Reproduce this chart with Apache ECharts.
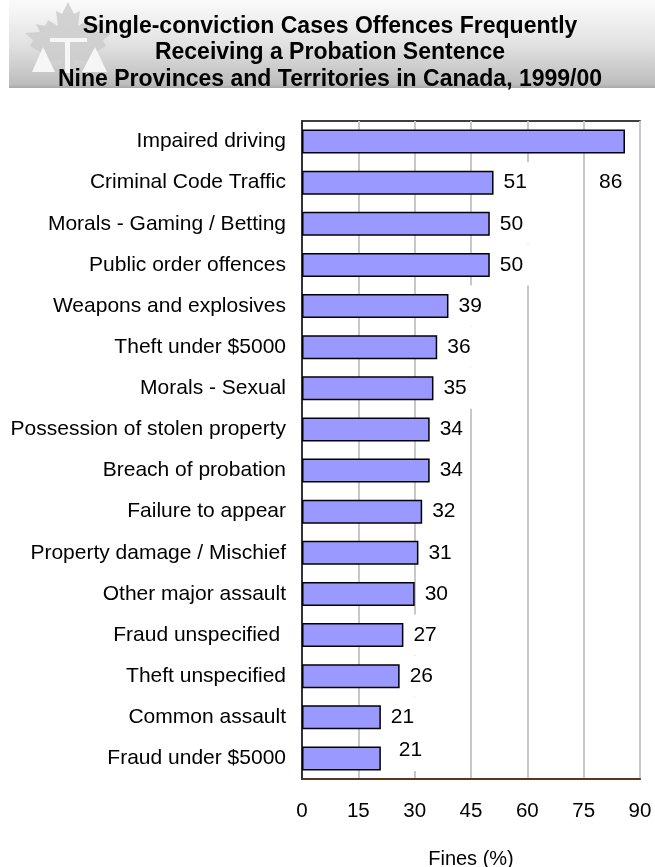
<!DOCTYPE html>
<html>
<head>
<meta charset="utf-8">
<script src="https://cdn.jsdelivr.net/npm/echarts@6/dist/echarts.min.js"></script>
<style>
  html, body { margin: 0; padding: 0; background: #fff; }
  #chart { width: 655px; height: 867px; }
</style>
</head>
<body>
<div id="chart"></div>
<script>
const categories = [
  "Impaired driving",
  "Criminal Code Traffic",
  "Morals - Gaming / Betting",
  "Public order offences",
  "Weapons and explosives",
  "Theft under $5000",
  "Morals - Sexual",
  "Possession of stolen property",
  "Breach of probation",
  "Failure to appear",
  "Property damage / Mischief",
  "Other major assault",
  "Fraud unspecified ",
  "Theft unspecified",
  "Common assault",
  "Fraud under $5000"
];
const fines = [86, 51, 50, 50, 39, 36, 35, 34, 34, 32, 31, 30, 27, 26, 21, 21];
const xTicks = [0, 15, 30, 45, 60, 75, 90];

const titleLines = [
  "Single-conviction Cases Offences Frequently",
  "Receiving a Probation Sentence",
  "Nine Provinces and Territories in Canada, 1999/00"
];

const chart = echarts.init(document.getElementById("chart"));

// labels carry a white box, like the original, which hides bits of the grid
const labelBase = {
  show: true,
  position: "right",
  distance: 6,
  color: "#000",
  fontSize: 21,
  fontFamily: "Liberation Sans, Arial, sans-serif",
  lineHeight: 23,
  backgroundColor: "#fff",
  padding: [9, 6, 9, 4]
};

const barData = fines.map((v, i) => {
  const d = { value: v };
  if (i === 0) d.label = { offset: [-36, 41] };
  if (i === fines.length - 1) d.label = { offset: [8, -8] };
  return d;
});

const leaf = [
  [68, 2], [62, 14], [56, 11], [58, 26], [48, 20], [45, 26], [36, 24], [40, 32],
  [25, 33], [33, 40], [30, 46], [45, 55], [42, 62], [62, 60], [64, 76], [72, 76],
  [74, 60], [94, 62], [91, 55], [106, 46], [103, 40], [112, 33], [97, 32], [100, 24],
  [91, 26], [88, 20], [78, 26], [80, 11], [74, 14]
];

const option = {
  animation: false,
  textStyle: { fontFamily: "Liberation Sans, Arial, sans-serif" },
  graphic: [
    {
      type: "rect",
      left: 9, top: 0,
      shape: { width: 646, height: 88 },
      style: {
        fill: new echarts.graphic.LinearGradient(0, 0, 0, 1, [
          { offset: 0, color: "#fbfbfb" },
          { offset: 0.5, color: "#e2e2e2" },
          { offset: 0.96, color: "#bdbdbd" },
          { offset: 1, color: "#a8a8a8" }
        ])
      },
      z: -10
    },
    { type: "polygon", shape: { points: leaf }, style: { fill: "#cdcdcd", opacity: 0.85 }, z: -9 },
    { type: "polygon", shape: { points: [[32, 72], [43, 47], [55, 72]] }, style: { fill: "#f6f6f6" }, z: -8 },
    { type: "polygon", shape: { points: [[82, 72], [95, 47], [107, 72]] }, style: { fill: "#f6f6f6" }, z: -8 },
    { type: "rect", shape: { x: 50, y: 38, width: 37, height: 4 }, style: { fill: "#f6f6f6" }, z: -8 },
    { type: "rect", shape: { x: 65, y: 38, width: 5, height: 35 }, style: { fill: "#f6f6f6" }, z: -8 }
  ],
  title: {
    text: titleLines.join("\n"),
    left: 325,
    textAlign: "center",
    top: 8,
    textStyle: {
      fontSize: 23,
      fontWeight: "bold",
      color: "#000",
      lineHeight: 26.5,
      fontFamily: "Liberation Sans, Arial, sans-serif"
    }
  },
  grid: {
    left: 302,
    right: 15,
    top: 121,
    bottom: 88,
    show: true,
    borderColor: "#000",
    borderWidth: 1.5,
    containLabel: false,
    outerBoundsMode: "none"
  },
  xAxis: {
    type: "value",
    min: xTicks[0],
    max: xTicks[xTicks.length - 1],
    interval: 15,
    name: "Fines (%)",
    nameLocation: "middle",
    nameGap: 70,
    nameTextStyle: { fontSize: 20, color: "#000" },
    axisLine: { show: true, lineStyle: { color: "#5a3520", width: 2 } },
    axisTick: { show: false },
    axisLabel: { fontSize: 20.5, color: "#000", margin: 22 },
    splitLine: { show: true, lineStyle: { color: "#c8c8c8", width: 2 } }
  },
  yAxis: {
    type: "category",
    data: categories,
    inverse: true,
    axisLine: { show: true, lineStyle: { color: "#000", width: 1.5 } },
    axisTick: { show: false },
    axisLabel: { fontSize: 21, color: "#000", margin: 16 }
  },
  series: [
    {
      type: "bar",
      data: barData,
      barWidth: 24,
      itemStyle: { color: "#9999ff", borderColor: "#000", borderWidth: 1.5 },
      label: labelBase
    }
  ]
};

chart.setOption(option);
</script>
</body>
</html>
